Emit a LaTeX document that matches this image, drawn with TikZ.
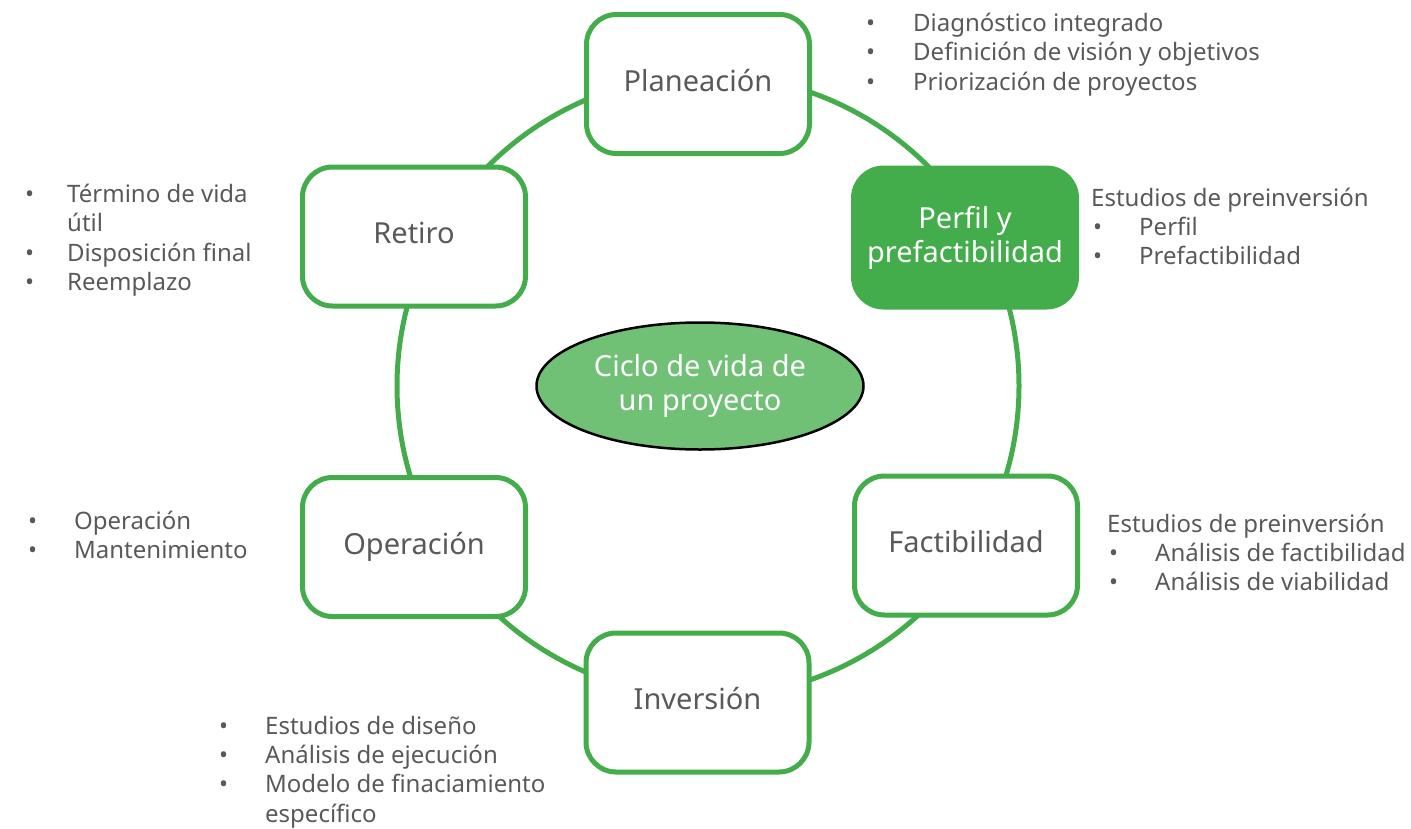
\documentclass[tikz,border=0pt]{standalone}
\usepackage{fontspec}
\setmainfont{Noto Sans}
\usetikzlibrary{shapes.geometric}
\definecolor{gr}{RGB}{68,173,75}
\definecolor{lgr}{RGB}{112,193,118}
\definecolor{tx}{RGB}{89,89,89}
\begin{document}
\begin{tikzpicture}[x=1pt,y=-1pt,
  stagebase/.style={draw=gr, line width=5pt, fill=white, rounded corners=30pt,
    minimum width=223pt, minimum height=139pt, inner sep=0pt,
    text=tx, align=center},
  stage/.style={stagebase, text height=21pt, text depth=7pt, font=\fontsize{29}{33}\selectfont},
  stagehi/.style={stagebase, fill=gr, text=white, font=\fontsize{29}{34}\selectfont},
  ringstyle/.style={draw=gr, line width=5pt, circle, minimum size=622pt, inner sep=0pt},
  core/.style={draw=black, line width=2.5pt, fill=lgr, ellipse, minimum width=327pt,
    minimum height=127pt, inner sep=0pt, text=white, align=center,
    font=\fontsize{29}{34}\selectfont},
  listtext/.style={anchor=base west, inner sep=0pt, text=tx, font=\fontsize{24}{29.4}\selectfont}
]
\useasboundingbox (0,0) rectangle (1411,828);
\node[ringstyle] (ring) at (708,386) {};

\node[stage] (plan) at (698,84) {Planeación};
\node[stagehi] (perfil) at (965,237.5) {Perfil y\\prefactibilidad};
\node[stage] (fact) at (966,545.5) {Factibilidad};
\node[stage] (inv) at (697.5,702.5) {Inversión};
\node[stage] (oper) at (414,547) {Operación};
\node[stage] (ret) at (414,236.5) {Retiro};

\node[core] (ciclo) at (700,386) {Ciclo de vida de\\un proyecto};

\node[listtext] (lplan) at (866,31.5) {\begin{tabular}[t]{@{}p{47pt}@{}l@{}}
•& Diagnóstico integrado\\
•& Definición de visión y objetivos\\
•& Priorización de proyectos
\end{tabular}};

\node[listtext] (lperfil) at (1091,206) {\begin{tabular}[t]{@{}p{48pt}@{}l@{}}
\multicolumn{2}{@{}l@{}}{Estudios de preinversión}\\
\hspace*{2pt}•& Perfil\\
\hspace*{2pt}•& Prefactibilidad
\end{tabular}};

\node[listtext] (lfact) at (1107,532) {\begin{tabular}[t]{@{}p{48pt}@{}l@{}}
\multicolumn{2}{@{}l@{}}{Estudios de preinversión}\\
\hspace*{2pt}•& Análisis de factibilidad\\
\hspace*{2pt}•& Análisis de viabilidad
\end{tabular}};

\node[listtext] (lret) at (25,202.5) {\begin{tabular}[t]{@{}p{42pt}@{}l@{}}
•& Término de vida\\
& útil\\
•& Disposición final\\
•& Reemplazo
\end{tabular}};

\node[listtext] (loper) at (28,529) {\begin{tabular}[t]{@{}p{46pt}@{}l@{}}
•& Operación\\
•& Mantenimiento
\end{tabular}};

\node[listtext] (linv) at (219,734) {\begin{tabular}[t]{@{}p{46pt}@{}l@{}}
•& Estudios de diseño\\
•& Análisis de ejecución\\
•& Modelo de finaciamiento\\
& específico
\end{tabular}};
\end{tikzpicture}
\end{document}
